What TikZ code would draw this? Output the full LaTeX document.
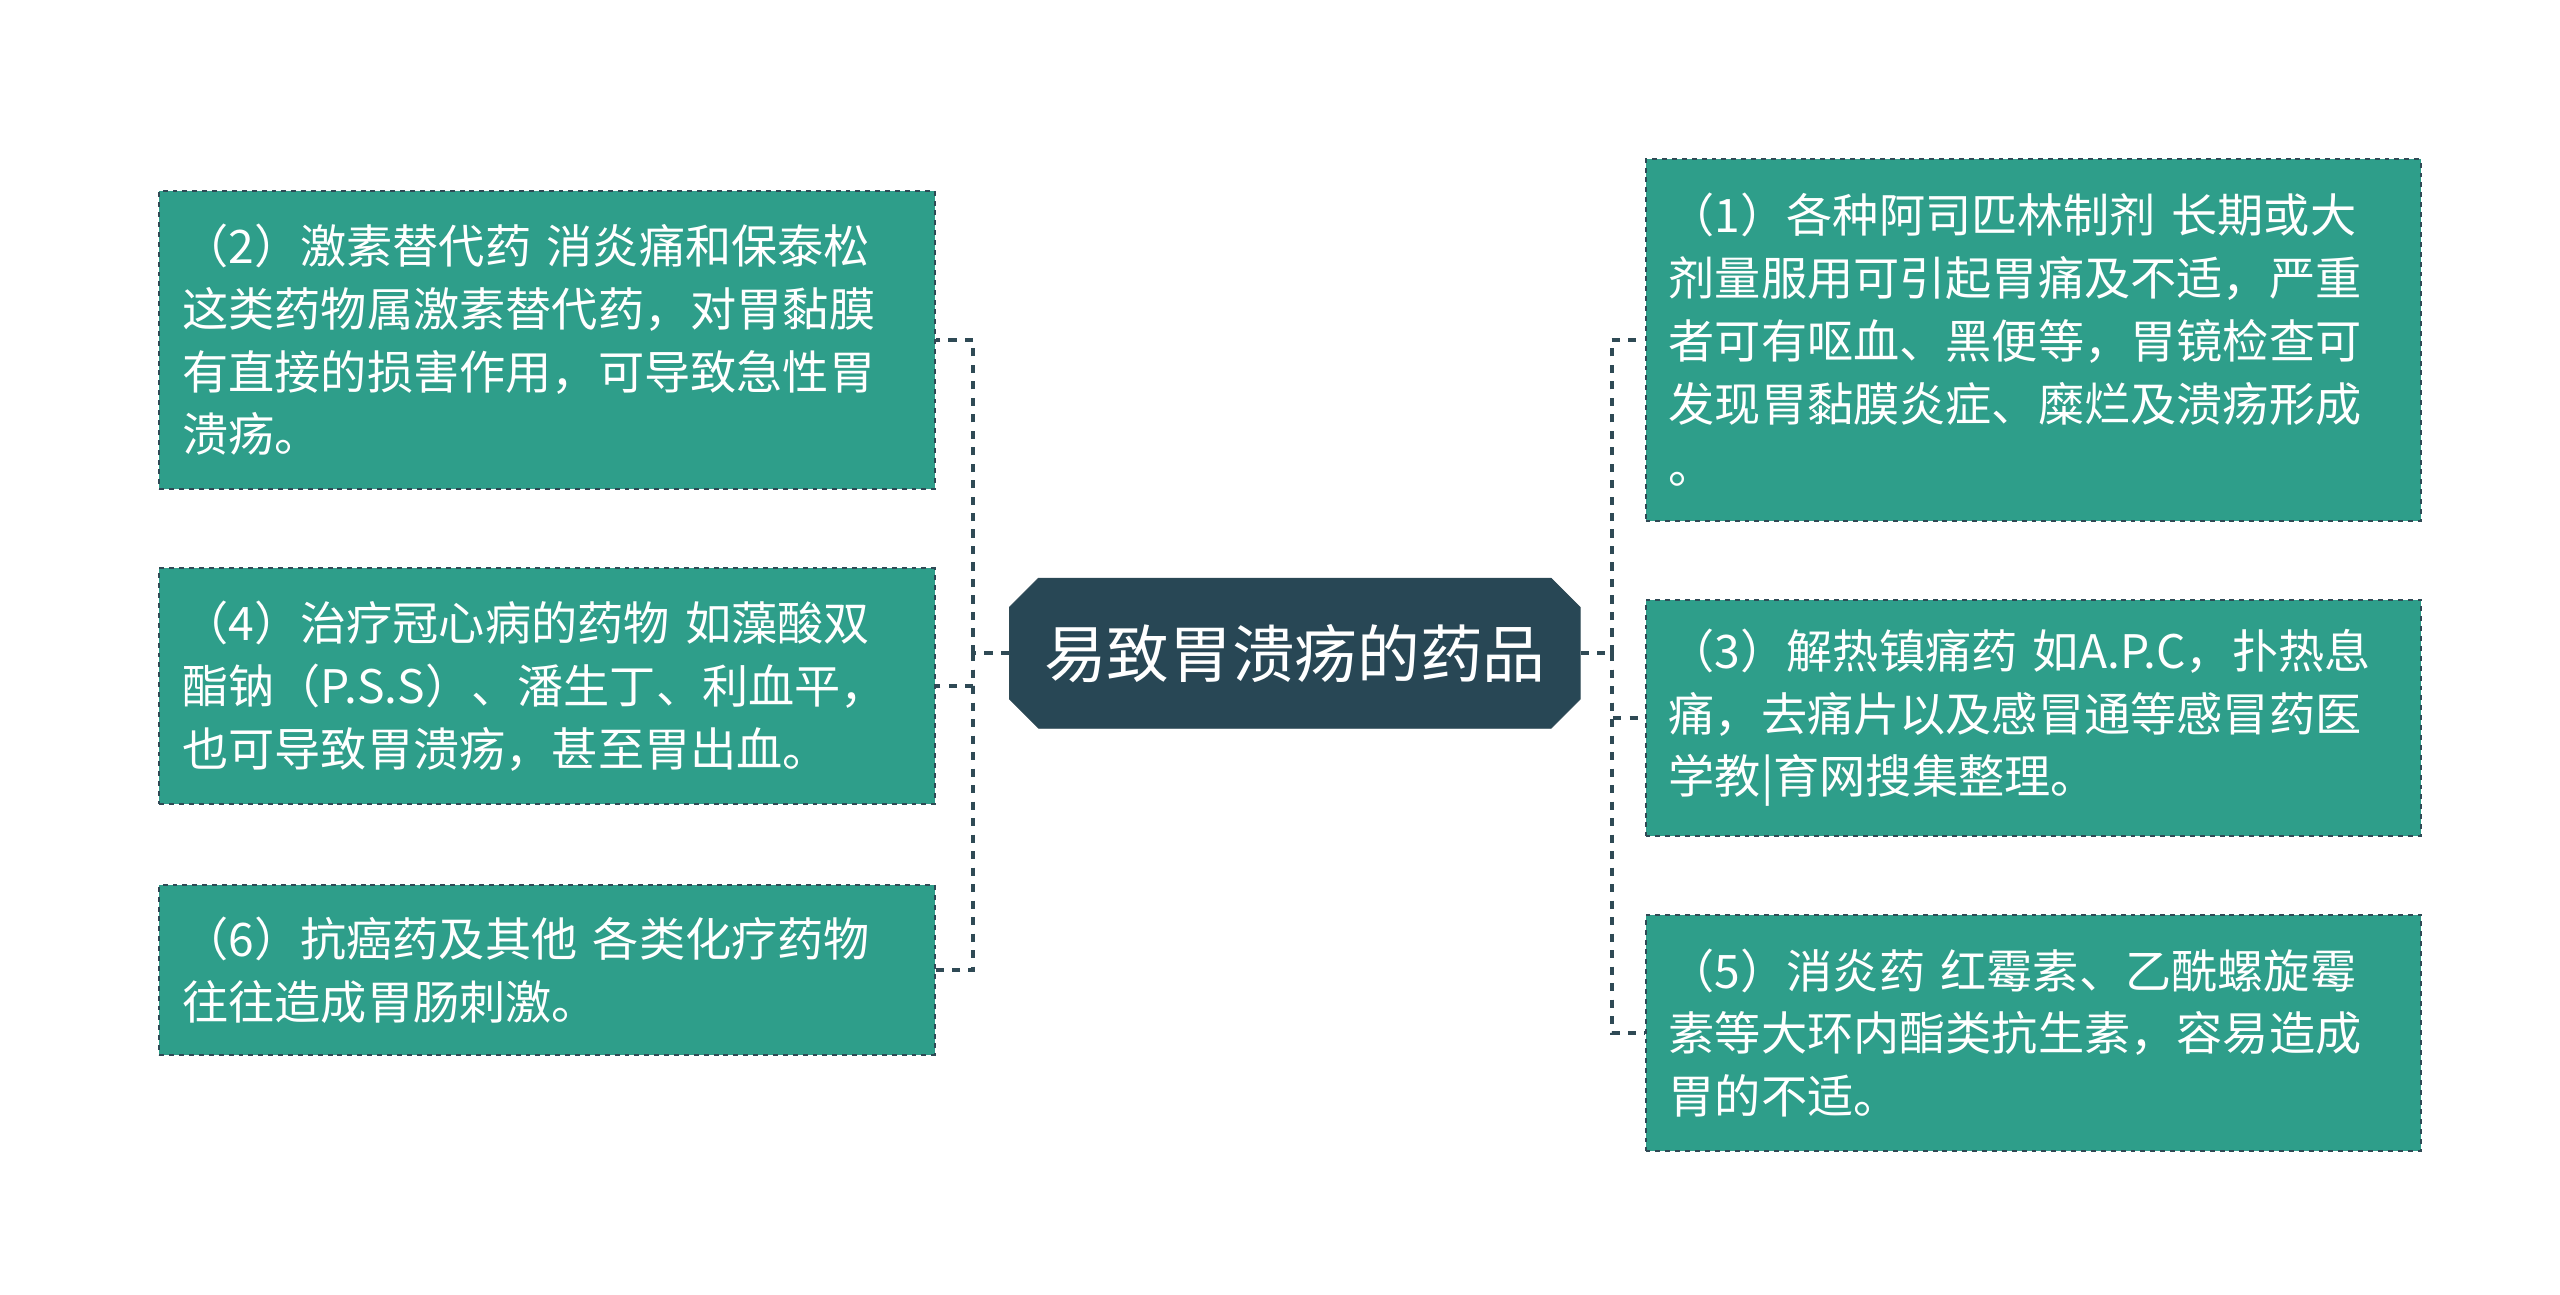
\documentclass[tikz,border=0pt]{standalone}
\usepackage{fontspec}
\setmainfont{Noto Sans CJK SC}
\usetikzlibrary{shapes.misc,shapes.geometric}
\definecolor{boxfill}{HTML}{2E9E8A}
\definecolor{boxline}{HTML}{2F4A55}
\definecolor{cfill}{HTML}{284755}
\begin{document}
\begin{tikzpicture}[x=1pt,y=-1pt,
 leaf/.style={draw=boxline,dashed,line width=1.2pt,fill=boxfill,text=white,
   font=\fontsize{28}{38}\selectfont,align=left,text width=442pt,inner sep=14pt,anchor=north west},
 conn/.style={draw=boxline,dash pattern=on 5pt off 5pt,line width=2.4pt}]
\useasboundingbox (0,0) rectangle (1552,785);
\node[draw=boxline,fill=cfill,text=white,font=\fontsize{38}{40}\selectfont,
  chamfered rectangle,chamfered rectangle xsep=14pt,minimum height=91pt,minimum width=346pt,inner xsep=4pt] (c) at (785,396) {易致胃溃疡的药品};
\node[leaf,minimum height=181pt] (l1) at (96,115) {（2）激素替代药 消炎痛和保泰松\\这类药物属激素替代药，对胃黏膜\\有直接的损害作用，可导致急性胃\\溃疡。};
\node[leaf,minimum height=143pt] (l2) at (96,344) {（4）治疗冠心病的药物 如藻酸双\\酯钠（P.S.S）、潘生丁、利血平，\\也可导致胃溃疡，甚至胃出血。};
\node[leaf,minimum height=103pt] (l3) at (96,536) {（6）抗癌药及其他 各类化疗药物\\往往造成胃肠刺激。};
\node[leaf,minimum height=219pt] (r1) at (997,96) {（1）各种阿司匹林制剂 长期或大\\剂量服用可引起胃痛及不适，严重\\者可有呕血、黑便等，胃镜检查可\\发现胃黏膜炎症、糜烂及溃疡形成\\。};
\node[leaf,minimum height=143pt] (r2) at (997,363) {（3）解热镇痛药 如A.P.C，扑热息\\痛，去痛片以及感冒通等感冒药医\\学教|育网搜集整理。};
\node[leaf,minimum height=143pt] (r3) at (997,554) {（5）消炎药 红霉素、乙酰螺旋霉\\素等大环内酯类抗生素，容易造成\\胃的不适。};
\coordinate (jl) at (590,396);
\coordinate (jr) at (977,396);
\draw[conn] (c.west) -- (jl);
\draw[conn] (jl) |- (l1.east);
\draw[conn] (jl) |- (l2.east);
\draw[conn] (jl) |- (l3.east);
\draw[conn] (c.east) -- (jr);
\draw[conn] (jr) |- (r1.west);
\draw[conn] (jr) |- (r2.west);
\draw[conn] (jr) |- (r3.west);
\end{tikzpicture}
\end{document}
